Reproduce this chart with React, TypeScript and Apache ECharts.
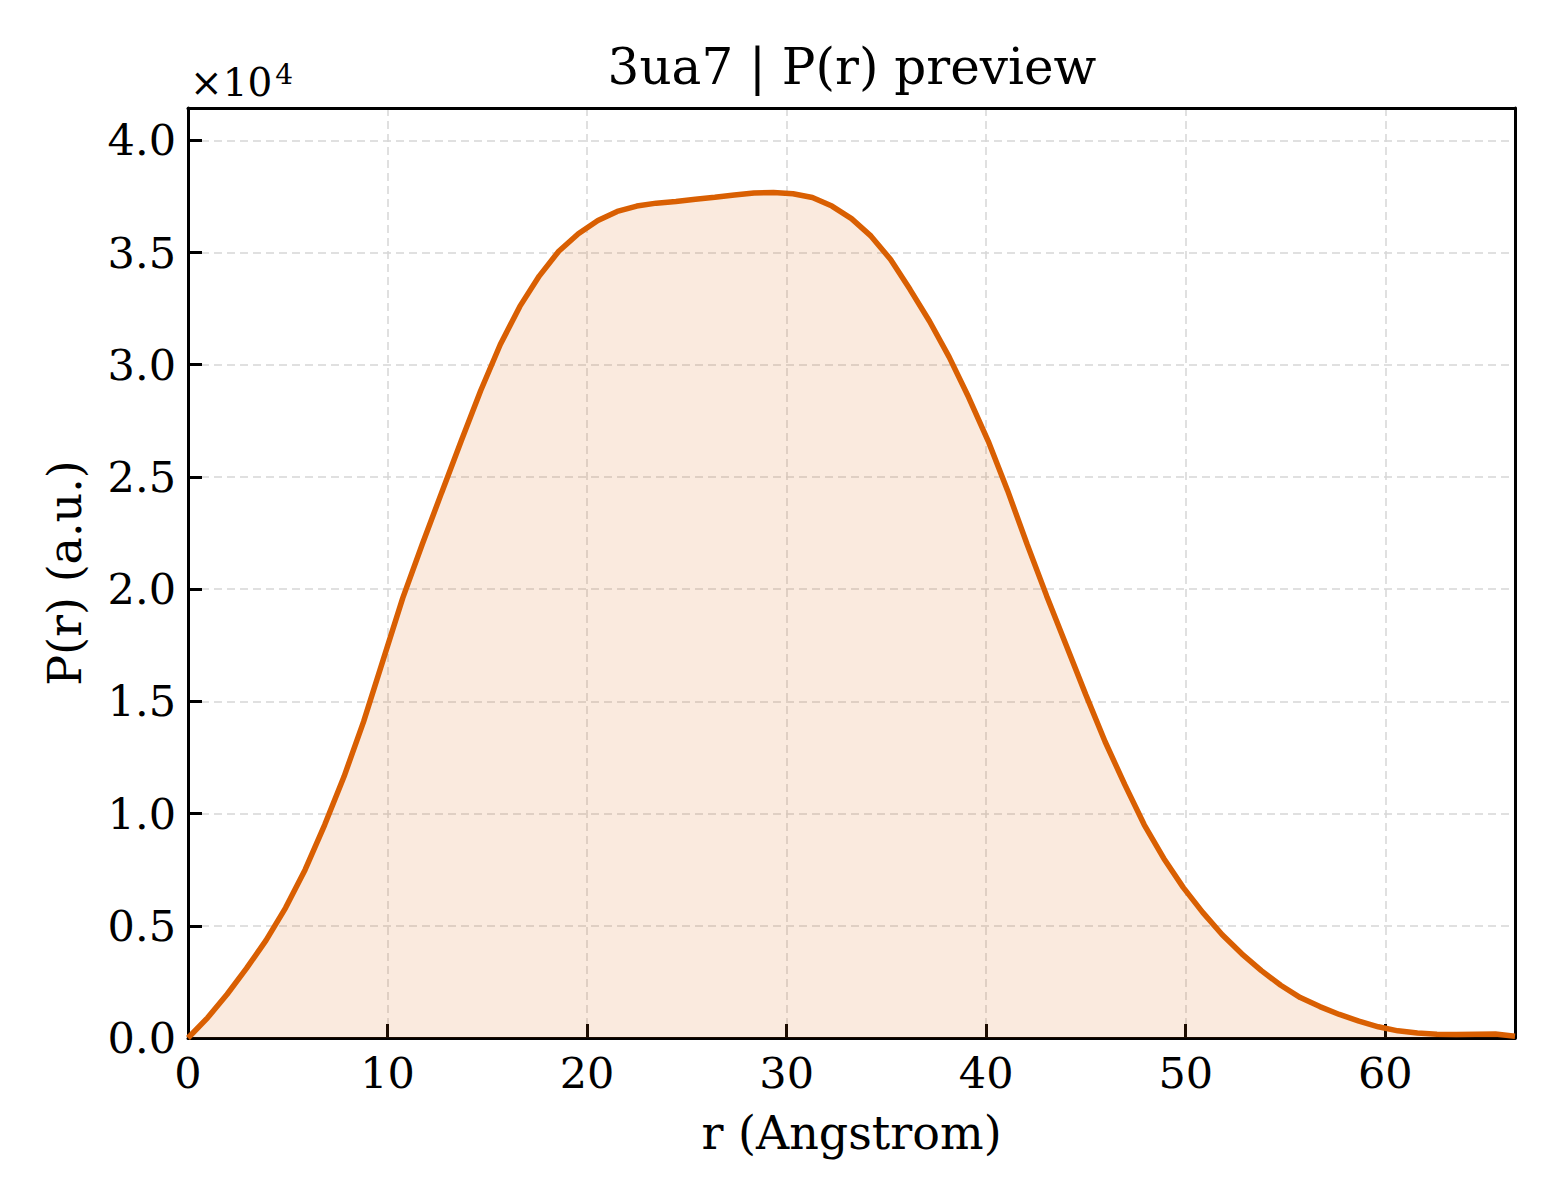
import * as echarts from "echarts";
import React, { useEffect, useRef } from "react";

const rValues = [
  0, 0.98, 1.96, 2.93, 3.91, 4.89, 5.87, 6.85, 7.82, 8.8, 9.78, 10.76, 11.74,
  12.71, 13.69, 14.67, 15.65, 16.63, 17.6, 18.58, 19.56, 20.54, 21.51, 22.49,
  23.47, 24.45, 25.43, 26.4, 27.38, 28.36, 29.34, 30.32, 31.29, 32.27, 33.25,
  34.23, 35.21, 36.18, 37.16, 38.14, 39.12, 40.1, 41.07, 42.05, 43.03, 44.01,
  44.99, 45.96, 46.94, 47.92, 48.9, 49.88, 50.85, 51.83, 52.81, 53.79, 54.76,
  55.74, 56.72, 57.7, 58.68, 59.65, 60.63, 61.61, 62.59, 63.57, 64.54, 65.52,
  66.5,
];
const prValues = [
  0, 900, 1950, 3100, 4350, 5800, 7500, 9500, 11650, 14100, 16850, 19600,
  22000, 24300, 26600, 28850, 30900, 32600, 33950, 35060, 35840, 36430, 36830,
  37070, 37200, 37270, 37370, 37460, 37560, 37650, 37670, 37620, 37450, 37070,
  36510, 35730, 34690, 33360, 31940, 30350, 28550, 26600, 24400, 22000, 19700,
  17500, 15300, 13200, 11300, 9500, 8000, 6700, 5600, 4600, 3750, 3000, 2350,
  1800, 1400, 1050, 750, 500, 320, 220, 170, 160, 170, 180, 80,
];
const xMax = 66.5;
const yMax = 41440;

const FONT = "DejaVu Serif";
const ORANGE = "#D95F02";

export default function App() {
  const chartRef = useRef<HTMLDivElement>(null);

  useEffect(() => {
    document.body.style.margin = "0";
    if (!chartRef.current) return;
    const chart = echarts.init(chartRef.current, null, { renderer: "svg" });

    const axisLine = { show: true, onZero: false, lineStyle: { color: "#000", width: 3 } };
    const tick = { show: true, inside: true, length: 14, lineStyle: { color: "#000", width: 3 } };
    const splitLine = {
      show: true,
      lineStyle: { color: "#d6d6d6", width: 1.5, type: [8, 5] as any },
    };
    const frame = {
      type: "value",
      axisLine,
      axisTick: { show: false },
      axisLabel: { show: false },
      splitLine: { show: false },
    };

    const option = {
      animation: false,
      backgroundColor: "#fff",
      grid: { left: 188, right: 45, top: 108, bottom: 162 },
      graphic: [
        {
          type: "text",
          x: 852,
          y: 42,
          style: {
            text: "3ua7 | P(r) preview",
            font: `50px '${FONT}'`,
            fill: "#000",
            textAlign: "center",
          },
        },
        {
          type: "text",
          x: 190,
          y: 60,
          style: {
            text: "{a|×10}{b|4}",
            fill: "#000",
            rich: {
              a: { fontFamily: FONT, fontSize: 39, fill: "#000" },
              b: {
                fontFamily: FONT,
                fontSize: 28,
                fill: "#000",
                padding: [0, 0, 16, 3],
              },
            },
          },
        },
      ],
      xAxis: [
        {
          type: "value",
          min: 0,
          max: xMax,
          interval: 10,
          name: "r (Angstrom)",
          nameLocation: "middle",
          nameGap: 72,
          nameTextStyle: { fontFamily: FONT, fontSize: 46, color: "#000" },
          axisLine,
          axisTick: tick,
          axisLabel: {
            fontFamily: FONT,
            fontSize: 43,
            color: "#000",
            margin: 13,
            formatter: (v: number) => (v % 10 === 0 ? String(v) : ""),
          },
          splitLine,
        },
        { ...frame, position: "top", min: 0, max: xMax },
      ],
      yAxis: [
        {
          type: "value",
          min: 0,
          max: yMax,
          interval: 5000,
          name: "P(r) (a.u.)",
          nameLocation: "middle",
          nameGap: 100,
          nameTextStyle: { fontFamily: FONT, fontSize: 46, color: "#000" },
          axisLine,
          axisTick: tick,
          axisLabel: {
            fontFamily: FONT,
            fontSize: 43,
            color: "#000",
            margin: 12,
            formatter: (v: number) => (v % 5000 === 0 ? (v / 10000).toFixed(1) : ""),
          },
          splitLine,
        },
        { ...frame, position: "right", min: 0, max: yMax },
      ],
      series: [
        {
          type: "line",
          data: rValues.map((r, i) => [r, prValues[i]]),
          showSymbol: false,
          lineStyle: { color: ORANGE, width: 5.5 },
          itemStyle: { color: ORANGE },
          areaStyle: { color: ORANGE, opacity: 0.13 },
          z: 3,
        },
      ],
    };

    chart.setOption(option);
    return () => {
      chart.dispose();
    };
  }, []);

  return <div ref={chartRef} style={{ width: "1560px", height: "1200px" }}></div>;
}
